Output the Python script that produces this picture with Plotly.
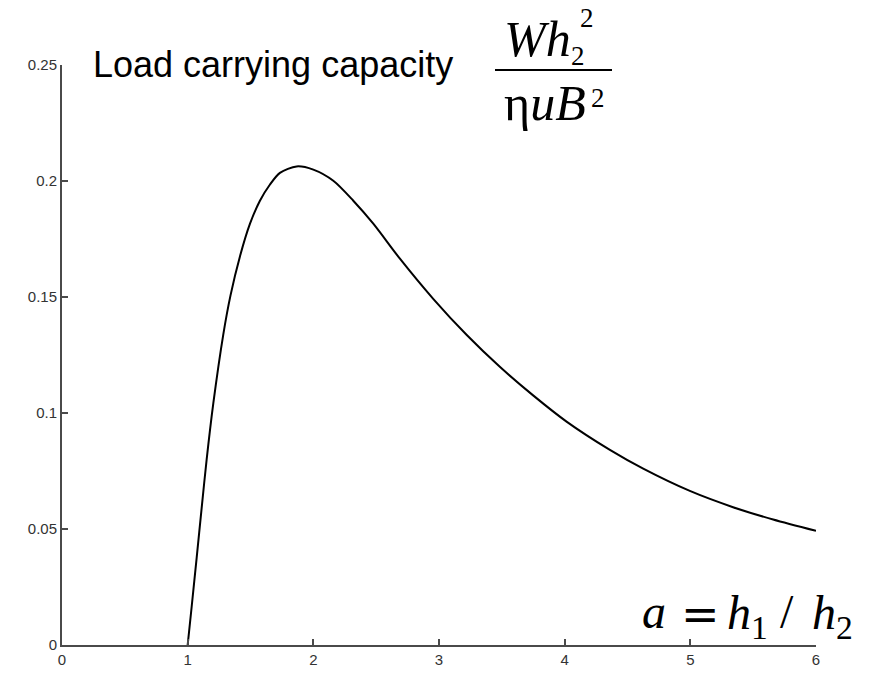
import plotly.graph_objects as go

# Film thickness ratio a = h1/h2 and dimensionless load W*h2^2/(eta*u*B^2)
ratio_a = [1.0, 1.032, 1.072, 1.111, 1.151, 1.204, 1.283, 1.3405, 1.416, 1.496,
           1.575, 1.655, 1.734, 1.867, 2.0, 2.159, 2.318, 2.477, 2.689, 2.954,
           3.219, 3.484, 3.749, 4.015, 4.36, 4.625, 4.996, 5.34, 5.659, 6.0]
load = [0.0, 0.0166, 0.0378, 0.0589, 0.0799, 0.1041, 0.1337, 0.1506, 0.1675, 0.1816,
        0.1915, 0.1985, 0.2035, 0.2063, 0.2049, 0.2001, 0.1915, 0.1816, 0.1665, 0.1492,
        0.1337, 0.1199, 0.1076, 0.0963, 0.0841, 0.0760, 0.0664, 0.0594, 0.0541, 0.0492]

x_ticks = [0, 1, 2, 3, 4, 5, 6]
x_tick_text = ["0", "1", "2", "3", "4", "5", "6"]
y_ticks = [0, 0.05, 0.1, 0.15, 0.2, 0.25]
y_tick_text = ["0", "0.05", "0.1", "0.15", "0.2", "0.25"]

W, H = 876, 680
L, R, T, B = 62, 60, 65, 24
PW, PH = W - L - R, H - T - B


def px(x):
    return (x - L) / PW


def py(y):
    return (H - B - y) / PH


SERIF = "Liberation Serif, Times New Roman, serif"
SANS = "Liberation Sans, Arial, sans-serif"

fig = go.Figure()
fig.add_trace(go.Scatter(
    x=ratio_a, y=load, mode="lines",
    line=dict(color="black", width=2, shape="spline", smoothing=0.8),
    showlegend=False, hoverinfo="skip",
))

axis_common = dict(
    showline=True, linecolor="#4a4a4a", linewidth=2, mirror=False,
    showgrid=False, zeroline=False, ticks="inside", ticklen=6,
    tickwidth=1.5, tickcolor="#4a4a4a",
    tickfont=dict(family=SANS, size=15, color="#333333"),
)
fig.update_xaxes(range=[0, 6], tickvals=x_ticks, ticktext=x_tick_text, **axis_common)
fig.update_yaxes(range=[0, 0.25], tickvals=y_ticks, ticktext=y_tick_text, **axis_common)

annots = []


def label(text, x, y, size, family=SERIF, xanchor="left"):
    annots.append(dict(text=text, x=px(x), y=py(y), xanchor=xanchor, yanchor="middle",
                       font=dict(family=family, size=size, color="black")))


# heading text
label("Load carrying capacity", 92, 64.5, 36, family=SANS)
# numerator W h_2^2
label("<i>Wh</i>", 503, 38, 50)
label("2", 579, 17, 27)
label("2", 570, 56, 27)
# denominator eta u B^2
label("\u03b7<i>uB</i>", 503, 104, 50)
label("2", 590, 99, 27)
# x-axis quantity a = h1 / h2
label("<i>a</i>", 641, 622, 48)
label("=", 700, 624, 46, family="DejaVu Serif, serif", xanchor="center")
label("<i>h</i><sub>1</sub>", 726, 626, 48)
label("/", 787, 622, 48, xanchor="center")
label("<i>h</i><sub>2</sub>", 811, 626, 48)

for a in annots:
    a.update(xref="paper", yref="paper", showarrow=False, borderpad=0)

fig.update_layout(
    width=W, height=H, margin=dict(l=L, r=R, t=T, b=B),
    paper_bgcolor="white", plot_bgcolor="white",
    annotations=annots,
    shapes=[dict(type="line", xref="paper", yref="paper",
                 x0=px(495), x1=px(612), y0=py(70), y1=py(70),
                 line=dict(color="black", width=2))],
)
fig.write_html("out.html")
